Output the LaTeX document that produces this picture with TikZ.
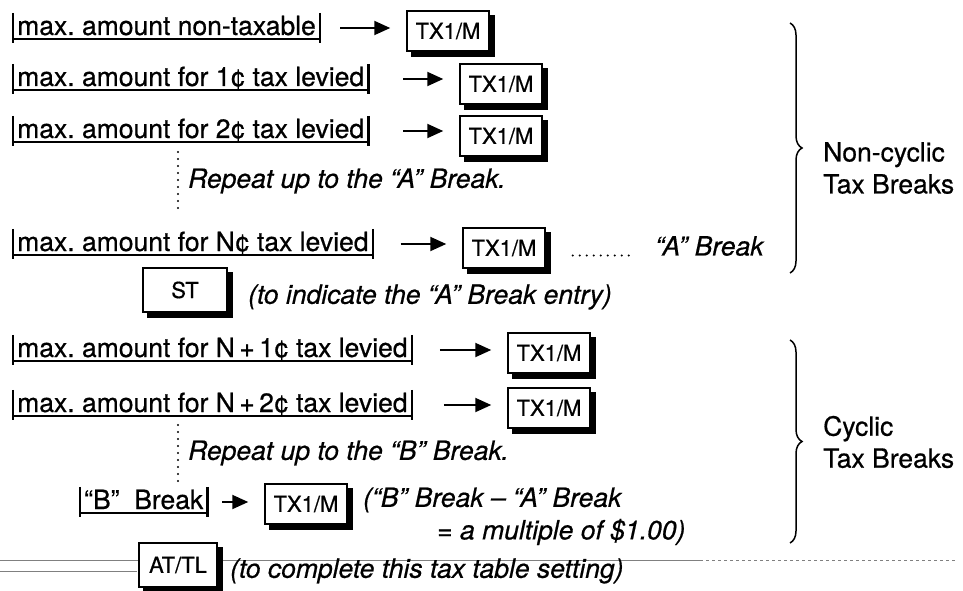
\documentclass[tikz,border=0pt]{standalone}
\usepackage{fontspec}
\setmainfont{TeX Gyre Heros}[FakeBold=0.6]
\usetikzlibrary{arrows.meta,decorations.pathreplacing,shadows}
\frenchspacing

\tikzset{
  entry/.style={anchor=west, inner xsep=4pt, inner ysep=3pt, text height=19pt, text depth=5pt,
    font=\fontsize{26.5}{30}\selectfont},
  keycap/.style={draw, line width=1.5pt, fill=white, minimum width=82pt, minimum height=40pt,
    inner sep=0pt, font=\fontsize{22}{24}\selectfont,
    general shadow={draw=black, fill=black, line width=1.5pt, shadow xshift=5pt, shadow yshift=-5pt}},
  remark/.style={anchor=west, inner sep=0pt, font=\fontsize{26.5}{30}\selectfont\itshape},
  label/.style={anchor=west, inner sep=0pt, align=left, font=\fontsize{26.5}{32}\selectfont},
  feed/.style={line width=2pt, -{Triangle[length=16pt,width=14pt]}, shorten >=16pt},
  bar/.style={line width=2.4pt},
  uline/.style={line width=1.8pt},
  leader/.style={line width=2.4pt, line cap=round, dash pattern=on 0pt off 7pt},
  bracket/.style={decorate, decoration={brace, amplitude=12pt}, line width=1.5pt},
  scanline/.style={gray, line width=0.8pt}
}

\begin{document}
\begin{tikzpicture}[x=1pt, y=-1pt]
  \useasboundingbox (0,0) rectangle (963,591);

  % scanned page edge
  \draw[scanline] (0,560) -- (700,560);
  \draw[scanline, dashed] (700,560) -- (955,560);
  \draw[scanline] (0,571) -- (137,571);

  % Non-cyclic breaks
  \node[entry] (e1) at (13,28) {max. amount non-taxable};
  \node[keycap] (k1) at (448,31) {TX1/M};
  \node[entry] (e2) at (13,79) {max. amount for 1¢ tax levied};
  \node[keycap] (k2) at (501,84) {TX1/M};
  \node[entry] (e3) at (13,131) {max. amount for 2¢ tax levied};
  \node[keycap] (k3) at (501,136) {TX1/M};

  \draw[leader] (178,152) -- (178,214);
  \node[remark] (repA) at (188,181) {Repeat up to the “A” Break.};

  \node[entry] (eN) at (13,244) {max. amount for N¢ tax levied};
  \node[keycap] (kN) at (504,248) {TX1/M};
  \node[remark] (abreak) at (655,246) {“A” Break};
  \draw[leader, shorten <=27pt, shorten >=20pt] (kN.east |- abreak.base) -- (abreak.base west);

  \node[keycap, minimum width=84pt, minimum height=44pt] (st) at (185,290) {ST};
  \node[remark] (stnote) at (248,297) {(to indicate the “A” Break entry)};

  % Cyclic breaks
  \node[entry] (eN1) at (13,350) {max. amount for N\,+\,1¢ tax levied};
  \node[keycap] (kN1) at (549,353) {TX1/M};
  \node[entry] (eN2) at (13,405) {max. amount for N\,+\,2¢ tax levied};
  \node[keycap] (kN2) at (549,408) {TX1/M};

  \draw[leader] (178,425) -- (178,484);
  \node[remark] (repB) at (188,453) {Repeat up to the “B” Break.};

  \node[entry] (eB) at (80,502) {“B”\ \ Break};
  \node[keycap] (kB) at (306,504) {TX1/M};
  \node[remark] (note1) at (363,500) {(“B” Break -- “A” Break};
  \node[remark] (note2) at (437,532) {= a multiple of \$1.00)};

  \node[keycap, minimum width=78pt, minimum height=44pt] (attl) at (178,565) {AT/TL};
  \node[remark] (attlnote) at (230,571) {(to complete this tax table setting)};

  % bars and underlines of the entries
  \foreach \e in {e1,e2,e3,eN,eN1,eN2,eB}{
    \draw[bar] (\e.north west) -- (\e.south west);
    \draw[bar] (\e.north east) -- (\e.south east);
    \draw[uline] ([yshift=-4pt]\e.base west) -- ([yshift=-4pt]\e.base east);
  }

  % arrows from the entries to the keys
  \foreach \e/\k/\g in {e1/k1/20,e2/k2/35,e3/k3/35,eN/kN/28,eN1/kN1/28,eN2/kN2/32,eB/kB/15}
    \draw[feed, shorten <=\g pt] (\e.east) -- (\e.east -| \k.west);

  % braces
  \draw[bracket] (790,23) -- (790,273);
  \node[label] (ncyc) at (823,168) {Non-cyclic\\Tax Breaks};
  \draw[bracket] (790,340) -- (790,543);
  \node[label] (cyc) at (823,442) {Cyclic\\Tax Breaks};
\end{tikzpicture}
\end{document}
